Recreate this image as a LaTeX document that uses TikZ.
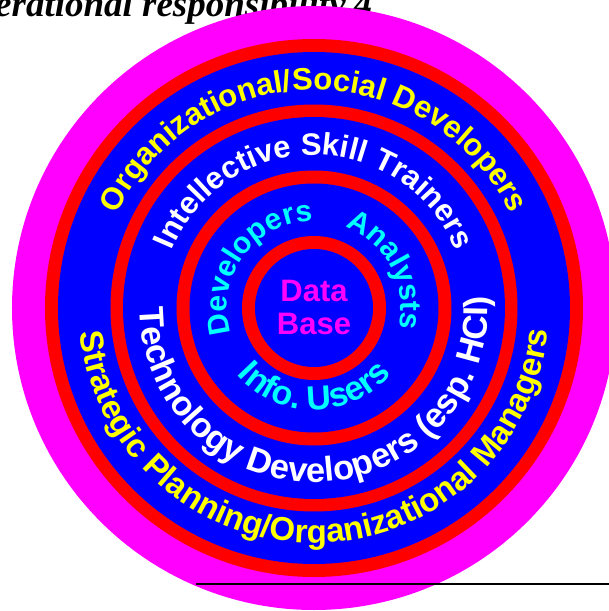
\documentclass[tikz,border=0pt]{standalone}
\usepackage{fontspec}
\setmainfont{Liberation Sans}
\newfontfamily\headfont{Liberation Serif}
\usetikzlibrary{ decorations.text, % For the text along the rings
                 positioning,
               }
\definecolor{ringred}{RGB}{255,0,0}
\definecolor{ringblue}{RGB}{0,0,255}
\definecolor{outermagenta}{RGB}{255,0,255}
\definecolor{labelyellow}{RGB}{255,255,0}
\definecolor{labelcyan}{RGB}{0,255,255}
\tikzstyle{disc_outer} = [fill=outermagenta]
\tikzstyle{band} = [fill=ringred]
\tikzstyle{field} = [fill=ringblue]
\tikzstyle{arc_label} = [decorate]

\begin{document}
\begin{tikzpicture}[x=1pt, y=1pt]
  \useasboundingbox (-314,-303) rectangle (295,308);
  \node (title) [anchor=base west, inner sep=0, font=\headfont\bfseries\itshape\fontsize{37}{37}\selectfont] at (-319, 291) {erational responsibility.4};

  \fill [disc_outer] (0,0) circle (302pt);
  \fill [band] (0,0) circle (269pt);
  \fill [field] (0,0) circle (256pt);
  \fill [band] (0,0) circle (203.5pt);
  \fill [field] (0,0) circle (191pt);
  \fill [band] (0,0) circle (137.5pt);
  \fill [field] (0,0) circle (124.5pt);
  \fill [band] (0,0) circle (72pt);
  \fill [field] (0,0) circle (59pt);

  \path [arc_label, decoration={text along path, text align=center, text color=labelyellow,
      text={|\bfseries\fontsize{31}{31}\selectfont|Organizational/Social Developers}}]
      (180:218pt) arc [start angle=180, end angle=0, radius=218pt];
  \path [arc_label, decoration={text along path, text align=center, text color=labelyellow,
      text={|\bfseries\fontsize{33}{33}\selectfont|Strategic Planning/Organizational Managers}}]
      (170.3:235pt) arc [start angle=170.3, end angle=370.3, radius=235pt];

  \path [arc_label, decoration={text along path, text align=center, text color=white,
      text={|\bfseries\fontsize{31}{31}\selectfont|Intellective Skill Trainers}}]
      (180:153pt) arc [start angle=180, end angle=0, radius=153pt];
  \path [arc_label, decoration={text along path, text align=center, text color=white,
      text={|\bfseries\fontsize{34.5}{34.5}\selectfont|Technology Developers (esp. HCI)}}]
      (166.9:174pt) arc [start angle=166.9, end angle=376.9, radius=174pt];

  \path [arc_label, decoration={text along path, text align=center, text color=labelcyan,
      text={|\bfseries\fontsize{30}{30}\selectfont|Developers}}]
      (224:87pt) arc [start angle=224, end angle=64, radius=87pt];
  \path [arc_label, decoration={text along path, text align=center, text color=labelcyan,
      text={|\bfseries\fontsize{30}{30}\selectfont|Analysts}}]
      (107.8:87pt) arc [start angle=107.8, end angle=-52.2, radius=87pt];
  \path [arc_label, decoration={text along path, text align=center, text color=labelcyan,
      text={|\bfseries\fontsize{34}{34}\selectfont|Info. Users}}]
      (180.3:102pt) arc [start angle=180.3, end angle=360.3, radius=102pt];

  \node (base) [text=outermagenta, align=center, inner sep=0, font=\bfseries\fontsize{31}{33}\selectfont] at (0,1) {Data\\Base};

  \coordinate (rule_start) at (-118,-276);
  \coordinate (rule_end) at (295,-276);
  \draw [line width=1.5pt] (rule_start) -- (rule_end);
\end{tikzpicture}
\end{document}
